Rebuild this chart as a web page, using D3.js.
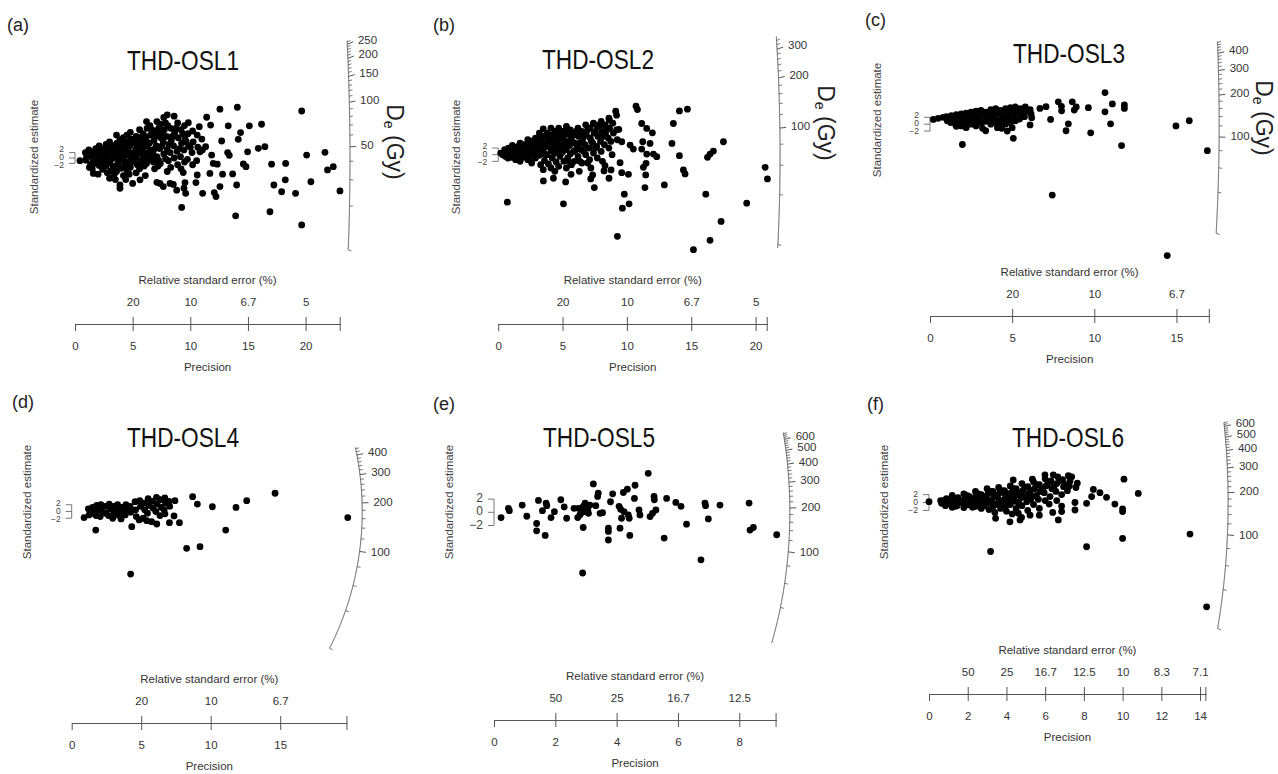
<!DOCTYPE html>
<html>
<head>
<meta charset="utf-8">
<script src="https://cdn.jsdelivr.net/npm/d3@7"></script>
<style>
  body { margin: 0; background: #fff; }
  svg text { font-family: "Liberation Sans", Arial, sans-serif; }
</style>
</head>
<body>
<svg id="chart" width="1278" height="774"></svg>
<script>
// ---- Radial plots of equivalent doses, six samples ----
// Each point: [precision (1/se), standardized estimate]

const sampleNames = ["THD-OSL1", "THD-OSL2", "THD-OSL3", "THD-OSL4", "THD-OSL5", "THD-OSL6"];
const panelLetters = ["(a)", "(b)", "(c)", "(d)", "(e)", "(f)"];

// central De (Gy) of each sample
const centralDe = [42, 69.3, 123.5, 177, 186.7, 170];
// largest precision shown on each x axis
const maxPrecision = [23.0, 20.9, 17.0, 19.8, 9.2, 14.3];
// De range covered by each radial axis (Gy)
const deRange = [[10, 265], [19, 360], [20, 488], [20, 448], [21, 672], [20, 643]];

const precisionTicks = [
  [0, 5, 10, 15, 20], [0, 5, 10, 15, 20], [0, 5, 10, 15],
  [0, 5, 10, 15], [0, 2, 4, 6, 8], [0, 2, 4, 6, 8, 10, 12, 14]
];
const rseTickPrecision = [
  [5, 10, 15, 20], [5, 10, 15, 20], [5, 10, 15],
  [5, 10, 15], [2, 4, 6, 8], [2, 4, 6, 8, 10, 12, 14]
];
const rseLabels = [
  ["20", "10", "6.7", "5"], ["20", "10", "6.7", "5"], ["20", "10", "6.7"],
  ["20", "10", "6.7"], ["50", "25", "16.7", "12.5"],
  ["50", "25", "16.7", "12.5", "10", "8.3", "7.1"]
];
const deMajorTicks = [
  [50, 100, 150, 200, 250], [100, 200, 300], [100, 200, 300, 400],
  [100, 200, 300, 400], [100, 200, 300, 400, 500, 600], [100, 200, 300, 400, 500, 600]
];
const deMinorStep = [10, 20, 20, 20, 20, 20];
const bandLabels = [2, 0, -2];

const osl1Points = [
  [0.43,-1.0],[12.57,18.1],[14.08,18.8],[19.66,17.4],[11.42,15.1],[11.76,12.2],[13.29,11.9],[15.12,11.9],
  [16.18,12.5],[9.83,13.1],[10.78,11.6],[14.36,9.4],[12.72,6.3],[14.16,6.9],[15.9,3.6],[16.47,4.2],
  [20.09,1.1],[21.68,2.1],[14.97,2.3],[13.24,2.0],[13.38,1.0],[10.84,2.3],[11.33,4.2],[11.85,1.1],
  [11.99,-2.0],[12.34,-2.3],[14.6,-2.2],[14.83,-3.2],[12.8,-6.0],[13.67,-5.9],[11.7,-5.7],[10.6,-6.3],
  [9.39,-5.4],[17.05,-2.3],[18.27,-2.0],[22.4,-3.2],[21.9,-4.4],[20.46,-8.8],[18.24,-8.1],[17.25,-10.0],
  [17.92,-12.5],[19.13,-13.1],[22.98,-12.2],[14.02,-10.0],[12.57,-10.6],[12.08,-12.8],[12.23,-14.3],
  [11.07,-13.1],[10.49,-9.1],[9.54,-9.1],[9.45,-11.2],[8.82,-11.9],[9.6,-13.1],[8.24,-9.4],[7.37,-9.4],
  [7.66,-10.6],[8.53,-9.8],[9.25,-18.3],[13.93,-21.4],[16.91,-19.9],[19.66,-24.8],[3.9,-10.0],[3.9,-11.2],
  [5.0,-9.4],[5.64,-8.1],[1.59,-5.7],
  [0.9,2.0],[0.95,-0.8],[1.2,3.0],[1.15,1.5],[1.25,-3.5],[1.5,2.2],[1.45,0.5],[1.55,-1.5],[1.5,-4.0],
  [1.8,3.5],[1.85,1.0],[1.75,-2.0],[2.1,4.5],[2.05,2.5],[2.15,0.2],[2.1,-2.8],[2.0,-6.0],
  [2.4,3.0],[2.45,1.2],[2.35,-1.0],[2.4,-4.2],[2.7,5.0],[2.75,2.0],[2.65,-0.5],[2.7,-3.0],[2.8,-5.5],
  [3.0,6.0],[3.05,3.5],[2.95,1.0],[3.0,-1.8],[3.1,-4.8],[3.0,-7.5],[3.3,4.5],[3.35,2.2],[3.25,-0.2],
  [3.3,-3.0],[3.4,-6.0],[3.6,8.5],[3.65,5.5],[3.55,3.0],[3.6,0.5],[3.7,-2.2],[3.6,-5.0],[3.5,-8.0],
  [3.9,6.8],[3.95,4.0],[3.85,1.5],[3.9,-1.0],[4.0,-3.8],[4.2,7.5],[4.25,5.0],[4.15,2.5],[4.2,0.0],
  [4.3,-2.8],[4.2,-6.5],[4.5,8.5],[4.55,6.0],[4.45,3.2],[4.5,1.0],[4.6,-1.5],[4.5,-4.5],[4.4,-8.0],
  [4.8,9.5],[4.85,7.0],[4.75,4.5],[4.8,2.0],[4.9,-0.5],[4.8,-3.5],[4.7,-6.0],[5.05,5.5],[5.0,1.5],
  [5.3,8.0],[5.35,5.0],[5.25,3.0],[5.3,0.5],[5.4,-2.5],[5.3,-5.5],[5.6,10.5],[5.65,7.5],[5.55,4.0],
  [5.6,1.8],[5.7,-1.0],[5.6,-4.0],[5.9,9.0],[5.95,6.0],[5.85,2.8],[5.9,0.0],[6.0,-3.0],
  [6.2,13.5],[6.25,11.0],[6.15,7.0],[6.2,4.5],[6.3,1.0],[6.2,-2.0],[6.1,-6.5],[6.5,12.0],[6.55,8.5],
  [6.45,5.5],[6.5,3.0],[6.6,-0.5],[6.8,10.0],[6.85,6.5],[6.75,2.0],[6.8,-1.5],[6.9,-4.0],
  [7.1,13.5],[7.15,9.0],[7.05,4.5],[7.1,0.5],[7.2,-3.0],[7.1,-9.0],[7.4,12.5],[7.45,7.5],[7.35,3.5],
  [7.4,-2.0],[7.7,15.0],[7.75,10.5],[7.65,6.0],[7.7,1.5],[8.0,16.0],[8.05,12.0],[7.95,8.0],[8.0,3.0],
  [8.1,-1.0],[8.0,-5.0],[8.3,11.0],[8.35,6.5],[8.25,2.0],[8.3,-3.5],[8.6,15.5],[8.65,9.5],[8.55,4.5],
  [8.6,0.0],[8.9,13.0],[8.95,7.5],[8.85,2.5],[8.9,-2.5],[9.2,10.5],[9.25,5.5],[9.15,0.5],[9.2,-4.0],
  [9.5,12.0],[9.55,7.0],[9.45,3.0],[9.5,-1.5],[9.8,9.0],[9.85,4.5],[9.75,-0.5],[10.2,10.0],[10.25,6.0],
  [10.15,2.0],[10.2,-2.5],[10.6,8.5],[10.65,4.0],[10.55,-1.0],[11.0,7.0],[11.05,3.0],
  [1.0,0.3],[1.35,-2.5],[1.65,1.8],[1.95,-0.5],[2.25,3.5],[2.25,-1.8],[2.55,0.5],[2.55,-3.0],[2.85,3.8],
  [2.85,-1.2],[3.15,0.0],[3.15,4.8],[3.45,1.2],[3.45,-4.0],[3.75,3.8],[3.75,-0.5],[4.05,1.0],[4.05,6.0],
  [4.35,-1.5],[4.35,4.0],[4.65,2.2],[4.65,-3.0],[4.95,6.0],[4.95,0.5],[5.15,-1.5],[5.45,2.0],[5.45,6.5],
  [5.75,-2.5],[5.75,5.0],[6.05,2.0],[6.05,8.0],[6.35,-1.0],[6.35,5.5],[6.65,1.0],[6.65,10.5],[6.95,3.5],
  [6.95,8.0],[7.25,-0.8],[7.25,11.0],[7.55,4.5],[7.55,9.0],[7.85,-0.3],[7.85,13.0],[8.15,5.0],[8.45,8.0],
  [8.75,11.0],[9.05,3.5],[9.35,9.0],[9.65,6.0],[10.0,4.0]
];

const osl2Points = [
  [0.71,-14.3],[5.07,-14.8],[3.51,-7.9],[4.29,-7.1],[5.24,-8.2],[5.66,-5.9],[7.19,-7.3],[7.47,-9.9],
  [7.34,-6.1],[8.3,-3.3],[8.22,-4.9],[8.61,-7.1],[8.77,-4.6],[9.47,-2.4],[9.6,-5.4],[10.12,-5.9],
  [9.8,-11.9],[9.65,-16.1],[10.17,-14.8],[9.26,-24.6],[11.4,-9.9],[11.46,-6.1],[11.28,-3.8],[11.49,-2.6],
  [11.54,0.2],[11.15,1.7],[11.23,3.9],[11.15,9.4],[11.54,7.9],[11.98,6.6],[11.8,3.4],[12.32,-0.6],
  [12.06,0.2],[12.91,-9.1],[13.5,3.4],[13.61,9.4],[14.08,-0.3],[14.08,13.2],[14.7,13.7],[14.39,-4.6],
  [14.52,-5.8],[16.13,-11.9],[16.26,-0.8],[16.46,0.2],[16.72,1.1],[17.5,3.9],[17.32,-20.1],[16.46,-25.8],
  [15.17,-28.6],[19.31,-14.6],[20.74,-3.8],[20.92,-7.3],[10.71,14.6],[10.82,13.6],[9.13,13.1],[9.2,11.9],
  [9.37,7.6],[9.6,3.9],[10.25,2.9],[10.5,1.7],[8.64,10.4],[8.05,8.9],[7.39,9.2],
  [0.2,0.5],[0.5,1.5],[0.55,-0.5],[0.8,2.0],[0.85,0.8],[0.75,-1.0],[1.1,2.8],[1.15,1.2],[1.05,-0.3],
  [1.4,2.0],[1.45,0.5],[1.35,-1.5],[1.7,3.5],[1.75,1.8],[1.65,0.0],[1.7,-2.0],[2.0,3.0],[2.05,1.0],
  [1.95,-0.8],[2.3,4.5],[2.35,2.5],[2.25,0.8],[2.3,-1.5],[2.6,3.8],[2.65,2.0],[2.55,0.0],[2.6,-2.5],
  [2.9,5.0],[2.95,3.0],[2.85,1.2],[2.9,-1.0],[3.2,6.5],[3.25,4.2],[3.15,2.0],[3.2,-0.2],[3.3,-3.0],
  [3.5,7.8],[3.55,5.5],[3.45,3.5],[3.5,1.0],[3.6,-1.8],[3.5,-4.5],[3.8,6.5],[3.85,4.5],[3.75,2.5],
  [3.8,0.0],[3.9,-2.8],[4.1,8.0],[4.15,5.8],[4.05,3.5],[4.1,1.5],[4.2,-1.0],[4.1,-4.0],[4.4,7.0],
  [4.45,5.0],[4.35,2.5],[4.4,0.5],[4.5,-2.2],[4.4,-5.0],[4.7,8.0],[4.75,6.0],[4.65,4.0],[4.7,1.8],
  [4.8,-0.5],[4.7,-3.5],[5.0,7.0],[5.05,5.0],[4.95,3.0],[5.0,0.8],[5.1,-2.0],[5.3,8.5],[5.35,6.2],
  [5.25,4.0],[5.3,1.5],[5.4,-1.0],[5.3,-4.0],[5.6,7.5],[5.65,5.0],[5.55,2.8],[5.6,0.2],[5.7,-3.0],
  [5.9,6.0],[5.95,3.5],[5.85,1.0],[5.9,-2.0],[6.2,8.0],[6.25,5.5],[6.15,2.5],[6.2,-0.5],[6.3,-5.0],
  [6.5,7.0],[6.55,4.5],[6.45,1.5],[6.5,-2.5],[6.8,9.0],[6.85,6.0],[6.75,3.0],[6.8,0.0],[7.1,8.0],
  [7.15,5.0],[7.05,2.0],[7.1,-1.5],[7.2,-4.0],[7.4,9.5],[7.45,6.5],[7.35,3.5],[7.4,0.5],[7.7,8.5],
  [7.75,5.5],[7.65,2.5],[7.7,-1.0],[8.0,10.0],[8.05,7.0],[7.95,4.0],[8.0,1.0],[8.1,-2.0],[8.3,9.0],
  [8.35,6.0],[8.25,3.0],[8.6,11.0],[8.65,8.0],[8.55,5.0],[8.6,2.0],[8.9,9.5],[8.95,6.5],[8.85,0.0],
  [9.2,7.5],[9.25,4.5],
  [0.35,0.0],[0.65,0.8],[0.95,1.8],[1.0,-0.8],[1.25,0.2],[1.55,2.5],[1.55,-0.8],[1.85,1.0],[1.85,2.8],
  [2.15,-0.2],[2.15,2.0],[2.45,3.2],[2.45,-0.8],[2.75,1.0],[2.75,4.2],[3.05,0.0],[3.05,2.5],[3.35,5.0],
  [3.35,1.5],[3.65,2.5],[3.65,0.0],[3.95,3.5],[3.95,6.0],[4.25,1.0],[4.25,4.5],[4.55,3.0],[4.55,6.5],
  [4.85,0.5],[4.85,5.0],[5.15,2.0],[5.15,7.0],[5.45,3.0],[5.45,-2.0],[5.75,4.0],[5.75,6.5],[6.05,1.5],
  [6.05,7.0],[6.35,3.5],[6.35,-2.0],[6.65,5.5],[6.65,1.0],[6.95,7.5],[6.95,-2.5],[7.25,4.0],[7.55,7.0],
  [7.55,2.0],[7.85,9.0],[8.15,5.5],[8.45,7.5],[8.75,4.0]
];

const osl3Points = [
  [1.97,-5.9],[3.39,-1.9],[4.36,-1.2],[4.7,-2.0],[5.07,-4.1],[6.09,-0.2],[6.19,1.9],[6.69,4.6],
  [7.06,5.1],[7.34,1.4],[7.44,-20.6],[7.81,6.5],[8.01,3.9],[8.0,5.2],[8.28,-1.9],[8.42,0.1],
  [8.66,6.5],[8.78,4.1],[8.9,5.0],[9.64,4.8],[9.78,-2.5],[10.65,9.2],[10.65,3.6],[10.99,0.1],
  [11.1,5.9],[11.66,-6.2],[11.83,5.6],[11.83,4.6],[14.44,-38.2],[14.97,-0.5],[15.78,1.0],[16.88,-7.7],
  [0.2,1.4],[0.5,1.7],[0.8,2.0],[1.0,2.2],[1.05,1.0],[1.3,2.5],[1.35,1.5],[1.25,0.5],[1.6,2.8],
  [1.65,1.2],[1.55,0.0],[1.6,-0.6],[1.9,3.0],[1.95,2.0],[1.85,0.8],[1.9,-0.5],[2.2,3.2],[2.25,1.8],
  [2.15,0.5],[2.2,-1.0],[2.5,3.5],[2.55,2.5],[2.45,1.2],[2.5,0.0],[2.8,3.8],[2.85,2.2],[2.75,0.8],
  [2.8,-0.5],[3.1,4.0],[3.15,2.8],[3.05,1.5],[3.1,0.2],[3.2,-1.2],[3.4,3.5],[3.45,2.0],[3.35,0.8],
  [3.7,4.2],[3.75,3.0],[3.65,1.5],[3.7,0.0],[4.0,4.5],[4.05,3.2],[3.95,2.0],[4.0,0.5],[4.1,-1.0],
  [4.3,4.0],[4.35,2.5],[4.25,1.0],[4.3,-0.5],[4.6,4.5],[4.65,3.0],[4.55,1.5],[4.6,0.0],[4.9,4.8],
  [4.95,3.5],[4.85,2.0],[4.9,0.5],[5.0,-1.0],[5.2,5.0],[5.25,3.8],[5.15,2.5],[5.2,1.0],[5.5,4.5],
  [5.55,3.0],[5.45,1.5],[5.8,5.0],[5.85,3.8],[5.75,2.2],[6.1,4.2],[6.15,3.0]
];

const osl4Points = [
  [0.89,-1.8],[1.73,-5.5],[4.24,-18.5],[4.32,-4.5],[8.27,-10.9],[9.23,-10.4],[8.7,4.4],[9.04,2.2],
  [10.12,1.4],[11.08,-5.5],[11.82,1.2],[12.59,3.2],[14.63,5.4],[19.86,-1.8],[7.75,-3.3],[7.03,-3.3],
  [7.36,-1.3],[6.71,-0.7],[7.43,3.2],[6.12,-3.7],[5.4,-2.7],[4.56,2.9],
  [1.2,0.8],[1.25,-1.0],[1.5,1.2],[1.55,-0.5],[1.8,1.8],[1.85,0.5],[1.75,-1.2],[2.1,2.0],[2.15,0.2],
  [2.05,-1.5],[2.4,1.5],[2.45,-0.5],[2.7,2.2],[2.75,0.8],[2.65,-1.2],[3.0,1.5],[3.05,-0.2],[2.95,-2.0],
  [3.3,2.0],[3.35,0.5],[3.25,-1.0],[3.6,1.2],[3.65,-0.5],[3.55,-2.2],[3.9,2.0],[3.95,0.8],[3.85,-1.0],
  [4.2,1.5],[4.25,-0.2],[4.6,0.5],[4.65,-1.5],[4.9,3.2],[4.95,1.5],[4.85,-2.5],[5.2,2.5],[5.25,0.5],
  [5.15,-2.0],[5.5,3.8],[5.55,1.8],[5.45,-0.5],[5.8,3.0],[5.85,1.0],[5.75,-3.0],[6.1,4.2],[6.15,2.2],
  [6.05,0.0],[6.4,3.5],[6.45,1.2],[6.35,-1.2],[6.7,4.0],[6.75,2.5],[6.65,0.5],[7.0,3.0],[7.05,1.5]
];

const osl5Points = [
  [0.23,-0.8],[0.47,0.6],[0.5,0.25],[0.92,1.1],[1.07,-0.6],[1.39,-1.7],[1.39,-2.8],[1.45,1.8],
  [1.58,0.25],[1.67,-3.5],[1.7,1.4],[1.72,1.0],[1.86,-0.8],[1.97,0.1],[2.18,1.9],[2.29,0.8],
  [2.37,-0.9],[2.61,0.6],[2.73,-0.8],[2.75,0.6],[2.89,-9.2],[2.91,0.9],[2.91,-2.3],[2.93,0.1],
  [2.97,1.4],[3.02,1.0],[3.08,-0.15],[3.06,0.35],[3.13,1.1],[2.8,-0.4],[2.85,-0.05],[3.24,4.3],
  [3.32,1.0],[3.38,2.4],[3.4,2.9],[3.46,-0.15],[3.54,-0.05],[3.73,-2.4],[3.73,-2.9],[3.73,-4.2],
  [3.8,1.6],[3.87,2.8],[4.08,0.9],[4.11,-2.4],[4.13,0.45],[4.16,-0.9],[4.22,3.0],[4.24,0.1],
  [4.35,3.5],[4.38,-0.4],[4.41,-0.9],[4.43,-3.5],[4.58,2.1],[4.6,4.1],[4.73,0.35],[4.76,-0.4],
  [5.03,5.9],[5.09,-0.65],[5.17,-0.15],[5.22,2.4],[5.23,1.9],[5.28,0.35],[5.55,-3.9],[5.63,2.1],
  [5.93,1.5],[6.1,0.9],[6.28,-1.8],[6.75,-7.2],[6.88,1.4],[6.9,1.0],[6.99,-1.0],[7.37,1.1],
  [8.32,1.4],[8.35,-2.7],[8.46,-2.3],[9.22,-3.4]
];

const osl6Points = [
  [0.0,0.2],[3.18,-12.4],[8.14,-11.2],[10.0,-9.1],[10.0,-1.6],[10.0,-2.3],[13.48,-8.0],[14.34,-26.4],
  [10.81,2.3],[10.07,5.9],[9.6,-0.4],[9.17,1.3],[8.83,2.5],[8.49,3.3],[8.4,1.5],[8.14,-0.2],
  [7.54,0.0],[7.54,-1.9],[7.59,3.8],[7.66,4.9],[7.28,5.4],[7.37,6.5],[7.25,4.2],[6.85,-2.3],
  [6.85,-0.9],[6.68,-4.4],[6.39,-2.5],[6.21,-0.4],[5.99,7.0],[6.42,7.0],[6.65,6.5],[5.7,-3.2],
  [5.22,-3.2],[4.78,-3.8],[4.7,-4.4],[4.61,-2.7],[4.18,-4.9],[4.3,-2.9],[3.44,-4.0],[4.35,5.7],
  [5.34,5.9],
  [0.6,0.5],[0.65,-0.2],[0.9,1.0],[0.95,0.0],[0.85,-0.8],[1.2,1.8],[1.25,0.5],[1.15,-0.5],[1.2,-1.2],
  [1.5,1.2],[1.55,0.2],[1.45,-0.8],[1.8,2.2],[1.85,1.0],[1.75,-0.2],[1.8,-1.3],[2.1,1.5],[2.15,0.5],
  [2.05,-0.6],[2.4,2.8],[2.45,1.6],[2.35,0.3],[2.4,-1.0],[2.7,2.0],[2.75,0.8],[2.65,-0.3],[2.7,-1.5],
  [3.0,3.5],[3.05,2.2],[2.95,1.0],[3.0,-0.2],[3.1,-1.8],[3.3,2.8],[3.35,1.5],[3.25,0.2],[3.3,-1.0],
  [3.4,-2.5],[3.6,3.8],[3.65,2.5],[3.55,1.2],[3.6,-0.2],[3.7,-1.5],[3.9,3.0],[3.95,1.8],[3.85,0.5],
  [3.9,-1.0],[4.0,-2.2],[4.2,4.2],[4.25,2.5],[4.15,1.0],[4.2,-0.5],[4.5,3.5],[4.55,2.0],[4.45,0.3],
  [4.5,-1.5],[4.8,4.8],[4.85,3.0],[4.75,1.2],[4.8,-0.8],[5.1,4.0],[5.15,2.2],[5.05,0.2],[5.1,-2.0],
  [5.4,5.2],[5.45,3.5],[5.35,1.5],[5.4,-0.5],[5.7,4.5],[5.75,2.8],[5.65,0.8],[5.7,-1.5],[6.0,6.0],
  [6.05,4.2],[5.95,2.5],[6.0,0.5],[6.3,5.5],[6.35,3.5],[6.25,1.5],[6.6,4.8],[6.55,2.8],[6.6,0.5],
  [6.9,5.8],[6.95,4.0],[6.85,2.0],[7.2,6.8],[7.15,3.0],
  [0.75,0.5],[1.05,0.2],[1.35,1.0],[1.35,-1.0],[1.65,0.5],[1.95,1.8],[1.95,-0.5],[2.25,1.0],[2.25,-1.2],
  [2.55,2.2],[2.55,0.0],[2.85,1.5],[2.85,-0.8],[3.15,2.8],[3.15,0.5],[3.45,1.8],[3.45,-0.5],[3.75,3.0],
  [3.75,0.5],[4.05,2.2],[4.05,-0.5],[4.35,3.5],[4.35,1.2],[4.65,2.5],[4.65,-0.2],[4.95,3.8],[4.95,1.5],
  [5.25,3.0],[5.25,0.8],[5.55,4.5],[5.55,1.8],[5.85,3.5],[6.15,5.0],[6.45,4.0],[6.75,5.5],[7.05,4.5]
];

const samplePoints = [osl1Points, osl2Points, osl3Points, osl4Points, osl5Points, osl6Points];

// ---- geometry of each panel (pixels) ----
const layout = [
  { x0: 75,    kx: 11.53, y0: 158,   ky: 2.7,  axisY: 324, r: 23.85, f: 0.08,  letter: [7, 31],    title: [183, 70],   yLab: [35, 157],    deLab: [393, 142] },
  { x0: 498.2, kx: 12.87, y0: 154.7, ky: 3.32, axisY: 324, r: 21.9,  f: 0.10,  letter: [433, 31],  title: [598, 69],   yLab: [457, 157],   deLab: [824, 123] },
  { x0: 930,   kx: 16.43, y0: 124.2, ky: 3.44, axisY: 316, r: 17.6,  f: 0.08,  letter: [865, 26],  title: [1069, 63],  yLab: [878, 120],   deLab: [1262, 118] },
  { x0: 71.7,  kx: 13.9,  y0: 511.5, ky: 3.38, axisY: 723, r: 20.9,  f: 0.238, letter: [12, 408],  title: [183, 447],  yLab: [27.5, 502],  deLab: null },
  { x0: 494,   kx: 30.66, y0: 512.3, ky: 6.6,  axisY: 720, r: 9.65,  f: 0.168, letter: [433, 410], title: [599, 447],  yLab: [450, 502],   deLab: null },
  { x0: 929,   kx: 19.36, y0: 502.5, ky: 3.95, axisY: 694, r: 15.45, f: 0.127, letter: [867, 410], title: [1068, 447], yLab: [885, 502],   deLab: null }
];

const svg = d3.select("#chart");
const lineColor = "#555";
const textColor = "#333";

layout.forEach((L, i) => {
  const g = svg.append("g");
  const pmax = maxPrecision[i];
  const x = d3.scaleLinear().domain([0, pmax]).range([L.x0, L.x0 + pmax * L.kx]);
  const y = d3.scaleLinear().domain([-10, 10]).range([L.y0 + 10 * L.ky, L.y0 - 10 * L.ky]);
  const dc = centralDe[i];

  // point on the radial (De) axis; k scales the radius for ticks / labels
  const arcPoint = (de, k = 1) => {
    const s = Math.log(de / dc);
    const xd = (L.r * k) / Math.sqrt(1 + L.f * L.f * s * s);
    return [x(xd), y(s * xd)];
  };

  // panel letter and title
  g.append("text").attr("x", L.letter[0]).attr("y", L.letter[1])
    .attr("font-size", 18).attr("fill", "#222").text(panelLetters[i]);
  g.append("text").attr("x", L.title[0]).attr("y", L.title[1])
    .attr("text-anchor", "middle").attr("font-size", 28)
    .attr("font-family", "Lato, 'Open Sans', sans-serif")
    .attr("textLength", 112).attr("lengthAdjust", "spacingAndGlyphs")
    .attr("fill", "#111").text(sampleNames[i]);

  // y axis title
  g.append("text")
    .attr("transform", `translate(${L.yLab[0]},${L.yLab[1]}) rotate(-90)`)
    .attr("text-anchor", "middle").attr("dominant-baseline", "middle")
    .attr("font-size", 11.5).attr("fill", "#444").text("Standardized estimate");

  // +/-2 band marker on the standardized-estimate axis
  const band = g.append("g").attr("stroke", "#777").attr("fill", "none");
  band.append("line").attr("x1", x(0)).attr("x2", x(0)).attr("y1", y(2)).attr("y2", y(-2));
  const wide = L.ky > 5;
  const labelGap = Math.max(2 * L.ky, 8);   // keep the three labels legible when the band is thin
  bandLabels.forEach(v => {
    band.append("line").attr("x1", x(0) - 6).attr("x2", x(0)).attr("y1", y(v)).attr("y2", y(v));
    g.append("text").attr("x", x(0) - 11).attr("y", L.y0 - (v / 2) * labelGap)
      .attr("text-anchor", "end").attr("dominant-baseline", "middle")
      .attr("font-size", wide ? 12 : 8.5).attr("fill", "#444")
      .text(v < 0 ? "\u2212" + Math.abs(v) : String(v));
  });

  // radial De axis
  const [deLo, deHi] = deRange[i];
  const arcVals = d3.range(0, 301).map(t => deLo * Math.pow(deHi / deLo, t / 300));
  g.append("path").attr("d", d3.line()(arcVals.map(v => arcPoint(v))))
    .attr("fill", "none").attr("stroke", lineColor).attr("stroke-width", 1);
  const minor = d3.range(deMinorStep[i], deHi, deMinorStep[i])
    .filter(v => v >= deLo && !deMajorTicks[i].includes(v));
  minor.forEach(v => {
    const a = arcPoint(v), b = arcPoint(v, 1.012);
    g.append("line").attr("x1", a[0]).attr("y1", a[1]).attr("x2", b[0]).attr("y2", b[1])
      .attr("stroke", lineColor).attr("stroke-width", 0.8);
  });
  deMajorTicks[i].forEach(v => {
    const a = arcPoint(v), b = arcPoint(v, 1.022), t = arcPoint(v, 1.032);
    g.append("line").attr("x1", a[0]).attr("y1", a[1]).attr("x2", b[0]).attr("y2", b[1])
      .attr("stroke", lineColor).attr("stroke-width", 1);
    g.append("text").attr("x", t[0] + 2).attr("y", t[1])
      .attr("dominant-baseline", "middle").attr("font-size", 11.5)
      .attr("fill", textColor).text(v);
  });
  if (L.deLab) {
    const lab = g.append("text")
      .attr("transform", `translate(${L.deLab[0]},${L.deLab[1]}) rotate(90)`)
      .attr("text-anchor", "middle").attr("dominant-baseline", "middle")
      .attr("font-size", 23).attr("fill", "#222");
    lab.append("tspan").text("D");
    lab.append("tspan").attr("font-size", 14).attr("dy", 5).text("e");
    lab.append("tspan").attr("dy", -5).text(" (Gy)");
  }

  // data points
  g.append("g").selectAll("circle").data(samplePoints[i]).join("circle")
    .attr("cx", d => x(d[0])).attr("cy", d => y(d[1])).attr("r", 3.4).attr("fill", "#000");

  // precision axis (bottom labels) and relative standard error (top labels)
  const axG = g.append("g").attr("transform", `translate(0,${L.axisY})`);
  const bottomAxis = d3.axisBottom(x).tickValues(precisionTicks[i])
    .tickSize(7).tickSizeOuter(0).tickPadding(11).tickFormat(d3.format("d"));
  const topAxis = d3.axisTop(x).tickValues(rseTickPrecision[i])
    .tickSize(7).tickSizeOuter(0).tickPadding(11).tickFormat((d, j) => rseLabels[i][j]);
  const b = axG.append("g").call(bottomAxis);
  const t = axG.append("g").call(topAxis);
  [b, t].forEach(s => {
    s.selectAll("path, line").attr("stroke", lineColor);
    s.selectAll("text").attr("font-size", 11.5).attr("fill", textColor)
      .attr("font-family", "'Liberation Sans', Arial, sans-serif");
  });
  axG.append("line").attr("x1", x(pmax)).attr("x2", x(pmax)).attr("y1", -7).attr("y2", 7)
    .attr("stroke", lineColor);
  const mid = (x(0) + x(pmax)) / 2;
  g.append("text").attr("x", mid).attr("y", L.axisY - 40).attr("text-anchor", "middle")
    .attr("font-size", 11.5).attr("fill", textColor).text("Relative standard error (%)");
  g.append("text").attr("x", mid).attr("y", L.axisY + 47).attr("text-anchor", "middle")
    .attr("font-size", 11.5).attr("fill", textColor).text("Precision");
});
</script>
</body>
</html>
